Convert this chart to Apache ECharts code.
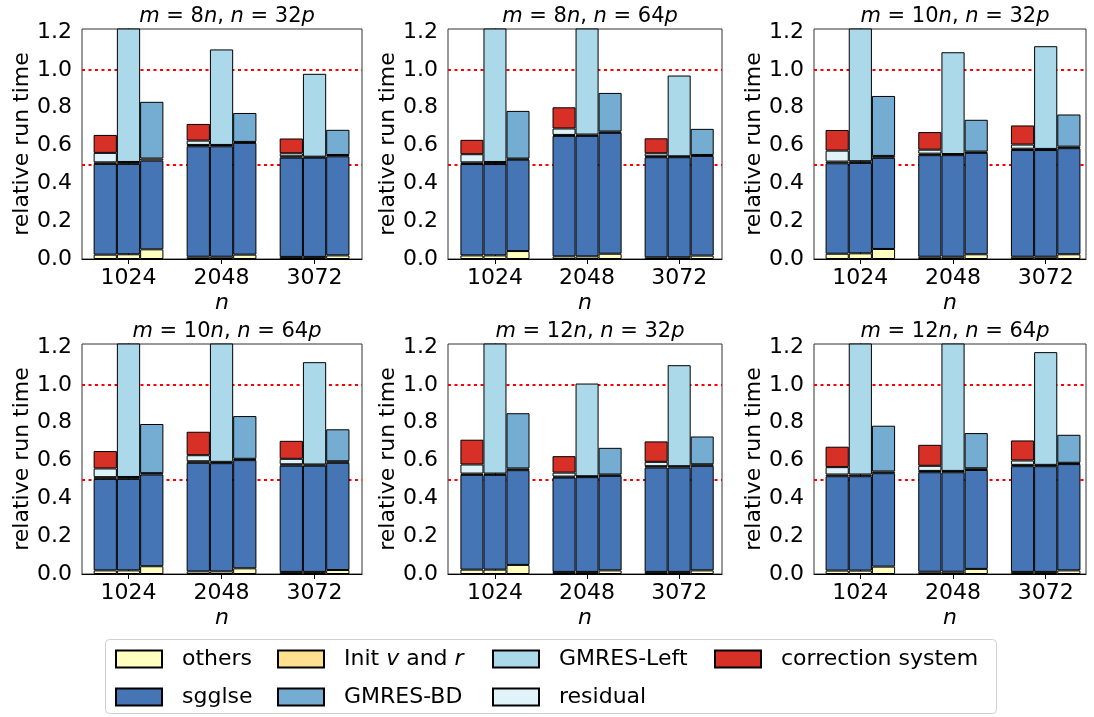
<!DOCTYPE html>
<html>
<head>
<meta charset="utf-8">
<script src="https://cdn.jsdelivr.net/npm/echarts@6/dist/echarts.min.js"></script>
<style>
  html, body { margin: 0; padding: 0; background: #fff; }
  #chart { width: 1094px; height: 717px; }
</style>
</head>
<body>
<div id="chart"></div>
<script>
// panel titles: m = {0}n, n = {1}p
const panelTitles = [['8', '32'], ['8', '64'], ['10', '32'], ['10', '64'], ['12', '32'], ['12', '64']];
const sizes = ['1024', '2048', '3072'];
const yTicks = [0, 0.2, 0.4, 0.6, 0.8, 1.0, 1.2];
const refLines = [0.5, 1.0];

// segment heights, [panel][n]; bar A = left, B = middle, C = right
const othersA = [[0.023, 0.012, 0.011], [0.019, 0.014, 0.009], [0.028, 0.012, 0.012], [0.019, 0.014, 0.011], [0.023, 0.011, 0.011], [0.018, 0.012, 0.011]];
const othersB = [[0.025, 0.012, 0.011], [0.019, 0.014, 0.009], [0.030, 0.012, 0.012], [0.019, 0.014, 0.011], [0.023, 0.011, 0.011], [0.018, 0.012, 0.011]];
const othersC = [[0.051, 0.023, 0.019], [0.042, 0.028, 0.018], [0.053, 0.025, 0.025], [0.041, 0.030, 0.021], [0.048, 0.019, 0.019], [0.039, 0.027, 0.019]];
const sgglseA = [[0.480, 0.584, 0.525], [0.483, 0.637, 0.529], [0.478, 0.537, 0.564], [0.484, 0.574, 0.562], [0.501, 0.499, 0.552], [0.499, 0.526, 0.559]];
const sgglseB = [[0.478, 0.584, 0.525], [0.483, 0.637, 0.529], [0.478, 0.537, 0.564], [0.484, 0.572, 0.562], [0.501, 0.501, 0.552], [0.499, 0.526, 0.559]];
const sgglseC = [[0.469, 0.591, 0.524], [0.483, 0.639, 0.527], [0.482, 0.536, 0.561], [0.485, 0.572, 0.567], [0.501, 0.500, 0.553], [0.494, 0.523, 0.562]];
const initA = [[0.008, 0.007, 0.007], [0.009, 0.005, 0.005], [0.009, 0.008, 0.007], [0.009, 0.008, 0.007], [0.007, 0.005, 0.007], [0.009, 0.007, 0.007]];
const initB = [[0.010, 0.007, 0.005], [0.011, 0.007, 0.005], [0.009, 0.006, 0.006], [0.010, 0.007, 0.006], [0.007, 0.005, 0.007], [0.009, 0.007, 0.007]];
const initC = [[0.011, 0.005, 0.007], [0.006, 0.007, 0.005], [0.010, 0.007, 0.008], [0.007, 0.007, 0.008], [0.009, 0.007, 0.008], [0.009, 0.009, 0.007]];
const residual = [[0.050, 0.023, 0.016], [0.043, 0.034, 0.016], [0.058, 0.021, 0.022], [0.046, 0.032, 0.029], [0.048, 0.021, 0.023], [0.039, 0.027, 0.023]];
const correction = [[0.095, 0.088, 0.078], [0.076, 0.112, 0.079], [0.109, 0.093, 0.101], [0.092, 0.124, 0.095], [0.131, 0.087, 0.108], [0.108, 0.111, 0.106]];
// GMRES-Left runs off the top of the axes where it is cut
const gmresLeft = [[0.787, 0.505, 0.438], [0.800, 0.700, 0.427], [0.800, 0.538, 0.543], [0.800, 0.700, 0.541], [0.780, 0.490, 0.534], [0.780, 0.750, 0.596]];
const gmresBD = [[0.300, 0.153, 0.133], [0.252, 0.204, 0.138], [0.317, 0.168, 0.170], [0.260, 0.226, 0.169], [0.292, 0.141, 0.147], [0.242, 0.186, 0.148]];

const colors = {
  'others': '#ffffbf',
  'Init v and r': '#fee090',
  'sgglse': '#4575b4',
  'GMRES-BD': '#74add1',
  'GMRES-Left': '#abd9e9',
  'residual': '#e0f3f8',
  'correction system': '#d73027'
};

const font = 'DejaVu Sans';
const colLeft = [82, 448, 814];
const colWidth = [280, 274, 272];
const colXMin = [-0.5, -0.51, -0.5];
const colXMax = [2.51, 2.465, 2.435];
const rowTop = [29, 344];
const plotH = 230;

const chart = echarts.init(document.getElementById('chart'), null, { renderer: 'canvas' });

const grids = [], xAxes = [], yAxes = [], titles = [], series = [];

panelTitles.forEach((t, p) => {
  const col = p % 3, row = Math.floor(p / 3);
  grids.push({
    left: colLeft[col], top: rowTop[row], width: colWidth[col], height: plotH,
    show: true, borderColor: '#333', borderWidth: 1, backgroundColor: 'transparent'
  });
  titles.push({
    text: '{i|m} = ' + t[0] + '{i|n}, {i|n} = ' + t[1] + '{i|p}',
    left: colLeft[col] + colWidth[col] / 2, top: rowTop[row] - 28, textAlign: 'center',
    textStyle: {
      fontFamily: font, fontSize: 21, fontWeight: 'normal', color: '#000',
      rich: { i: { fontFamily: font, fontSize: 21, fontStyle: 'italic', color: '#000' } }
    }
  });
  xAxes.push({
    type: 'value', gridIndex: p, min: colXMin[col], max: colXMax[col],
    name: 'n', nameLocation: 'middle', nameGap: 33,
    nameTextStyle: { fontFamily: font, fontSize: 22, fontStyle: 'italic', color: '#000' },
    axisLine: { show: true, lineStyle: { color: '#000', width: 1 } },
    axisTick: { show: true, length: 5, customValues: [0, 1, 2], lineStyle: { color: '#000' } },
    axisLabel: {
      customValues: [0, 1, 2], margin: 8, fontFamily: font, fontSize: 22, color: '#000',
      formatter: v => sizes[Math.round(v)]
    },
    splitLine: { show: false }
  });
  yAxes.push({
    type: 'value', gridIndex: p, min: 0, max: 1.216,
    name: 'relative run time', nameLocation: 'middle', nameGap: 46,
    nameTextStyle: { fontFamily: font, fontSize: 22, color: '#000' },
    axisLine: { show: true, lineStyle: { color: '#000', width: 1 } },
    axisTick: { show: true, length: 5, customValues: yTicks, lineStyle: { color: '#000' } },
    axisLabel: {
      customValues: yTicks, margin: 10, fontFamily: font, fontSize: 22, color: '#000',
      formatter: v => v.toFixed(1)
    },
    splitLine: { show: false }
  });

  // dotted reference lines at 0.5 and 1.0, kept behind the bars
  series.push({
    type: 'line', data: [], xAxisIndex: p, yAxisIndex: p, z: 0, silent: true,
    markLine: {
      silent: true, symbol: 'none', z: 0,
      label: { show: false },
      emphasis: { disabled: true },
      lineStyle: { color: '#ff0000', width: 2, type: [3, 3.5] },
      data: refLines.map(v => ({ yAxis: v }))
    }
  });

  const stacks = [
    ['A', [['others', othersA], ['sgglse', sgglseA], ['Init v and r', initA], ['residual', residual], ['correction system', correction]]],
    ['B', [['others', othersB], ['sgglse', sgglseB], ['Init v and r', initB], ['GMRES-Left', gmresLeft]]],
    ['C', [['others', othersC], ['sgglse', sgglseC], ['Init v and r', initC], ['GMRES-BD', gmresBD]]]
  ];
  stacks.forEach(([key, parts]) => {
    parts.forEach(([name, vals]) => {
      series.push({
        type: 'bar', name: name, stack: 'p' + p + key,
        xAxisIndex: p, yAxisIndex: p,
        barWidth: '25%', barGap: '0%',
        // value first so the stack runs along y
        data: vals[p].map((v, i) => [v, i]),
        encode: { x: 1, y: 0 },
        itemStyle: { color: colors[name], borderColor: '#000', borderWidth: 1 },
        emphasis: { disabled: true },
        z: 10
      });
    });
  });
});

const legendCols = [['others', 'sgglse'], ['Init v and r', 'GMRES-BD'], ['GMRES-Left', 'residual'], ['correction system']];
const legendLeft = [115, 277, 492, 714];

const option = {
  animation: false,
  backgroundColor: '#fff',
  title: titles,
  grid: grids,
  xAxis: xAxes,
  yAxis: yAxes,
  legend: legendCols.map((names, k) => ({
    orient: 'vertical', left: legendLeft[k], top: 648, padding: 0,
    itemWidth: 46, itemHeight: 17, itemGap: 16, icon: 'rect', selectedMode: false,
    data: names,
    formatter: name => name === 'Init v and r' ? 'Init {i|v} and {i|r}' : name,
    textStyle: {
      fontFamily: font, fontSize: 22, color: '#000', lineHeight: 22, padding: [0, 0, 0, 15],
      rich: { i: { fontFamily: font, fontSize: 22, fontStyle: 'italic', lineHeight: 22, color: '#000' } }
    }
  })),
  graphic: [{
    type: 'rect', left: 105, top: 639, z: -10,
    shape: { width: 891, height: 74, r: 4 },
    style: { fill: '#fff', stroke: '#d0d0d0', lineWidth: 1 }
  }],
  series: series
};

chart.setOption(option);
</script>
</body>
</html>
